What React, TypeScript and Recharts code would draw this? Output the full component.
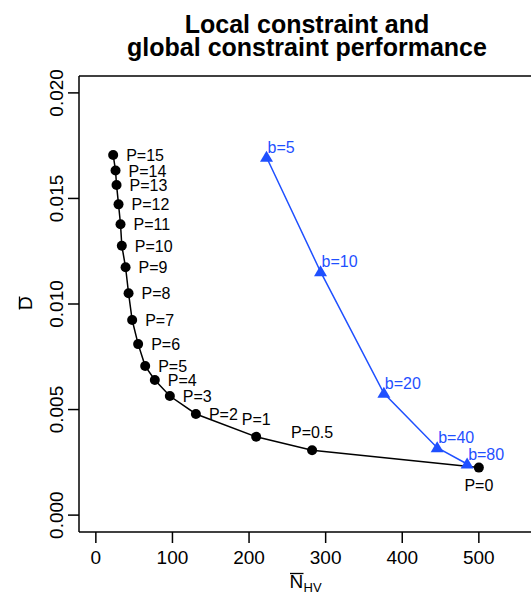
import { ScatterChart, Scatter, XAxis, YAxis, ReferenceLine } from "recharts";

const FONT = "'Liberation Sans', Arial, Helvetica, sans-serif";
const BLUE = "#1f50ff";

// local constraint (P) series
const pLabels = ["P=15", "P=14", "P=13", "P=12", "P=11", "P=10", "P=9", "P=8", "P=7", "P=6", "P=5", "P=4", "P=3", "P=2", "P=1", "P=0.5", "P=0"];
const pX = [22.6, 25.7, 27.0, 29.6, 32.2, 33.9, 38.8, 42.7, 47.4, 55.2, 64.4, 77.0, 96.6, 130.6, 209.3, 282.3, 500];
const pY = [0.01706, 0.01632, 0.01564, 0.01472, 0.01378, 0.01276, 0.01174, 0.01051, 0.00924, 0.0081, 0.00706, 0.0064, 0.00564, 0.00479, 0.00371, 0.00307, 0.00225];

// global constraint (b) series
const bLabels = ["b=5", "b=10", "b=20", "b=40", "b=80"];
const bX = [222.8, 293.3, 376, 445.6, 484.7];
const bY = [0.01695, 0.01153, 0.00577, 0.00319, 0.00242];

const xTicks = [0, 100, 200, 300, 400, 500];
const yTicks = [0, 0.005, 0.01, 0.015, 0.02];
const yMax = 0.0208;

const pData = pLabels.map((label, i) => ({ x: pX[i], y: pY[i], label }));
const bData = bLabels.map((label, i) => ({ x: bX[i], y: bY[i], label }));

function CircleShape(props: any) {
  const { cx, cy, payload } = props;
  const label: string = payload.label;
  let text;
  if (label === "P=0") {
    text = <text x={cx} y={cy + 23} textAnchor="middle">{label}</text>;
  } else if (label === "P=1" || label === "P=0.5") {
    text = <text x={cx} y={cy - 12} textAnchor="middle">{label}</text>;
  } else {
    text = <text x={cx + 13} y={cy + 6}>{label}</text>;
  }
  return (
    <g fontFamily={FONT} fontSize={16} fill="#000">
      <circle cx={cx} cy={cy} r={5} fill="#000" />
      {text}
    </g>
  );
}

function TriangleShape(props: any) {
  const { cx, cy, payload } = props;
  return (
    <g fontFamily={FONT} fontSize={16} fill={BLUE}>
      <polygon points={`${cx},${cy - 6.5} ${cx - 6.5},${cy + 4.5} ${cx + 6.5},${cy + 4.5}`} fill={BLUE} />
      <text x={cx + 1} y={cy - 4.5}>{payload.label}</text>
    </g>
  );
}

function XTick(props: any) {
  const { x, y, payload } = props;
  return (
    <text x={x} y={y + 19} textAnchor="middle" fontFamily={FONT} fontSize={19} fill="#000">
      {payload.value}
    </text>
  );
}

function YTick(props: any) {
  const { x, y, payload } = props;
  const bx = x - 3;
  return (
    <text x={bx} y={y} textAnchor="middle" transform={`rotate(-90, ${bx}, ${y})`} fontFamily={FONT} fontSize={19} fill="#000">
      {payload.value.toFixed(3)}
    </text>
  );
}

function XTitle() {
  return (
    <g fontFamily={FONT} fill="#000">
      <line x1={290} x2={303.5} y1={573.5} y2={573.5} stroke="#000" strokeWidth={1.3} />
      <text x={289.5} y={588} fontSize={19}>N</text>
      <text x={303.5} y={592} fontSize={13}>HV</text>
    </g>
  );
}

// y axis title plus the main title (drawn in the same label group)
function YTitle() {
  return (
    <g fontFamily={FONT} fill="#000">
      <line x1={19.5} x2={19.5} y1={296.5} y2={309.5} stroke="#000" strokeWidth={1.3} />
      <text x={32} y={303} fontSize={19} textAnchor="middle" transform="rotate(-90, 32, 303)">D</text>
      <g fontWeight="bold" fontSize={25} textAnchor="middle">
        <text x={307} y={32.5}>Local constraint and</text>
        <text x={307} y={55.5}>global constraint performance</text>
      </g>
    </g>
  );
}

export default function App() {
  return (
    <div style={{ position: "absolute", left: 0, top: 0, width: 531, height: 594, overflow: "hidden", background: "#fff" }}>
      <ScatterChart width={540} height={594} margin={{ top: 76, right: 6, left: 0, bottom: 0 }}>
        <XAxis
          dataKey="x"
          type="number"
          domain={[-22, 572]}
          ticks={xTicks}
          allowDataOverflow
          height={62}
          tickSize={11}
          tickLine={{ stroke: "#000", strokeWidth: 1.5 }}
          axisLine={{ stroke: "#000", strokeWidth: 1.5 }}
          tick={<XTick />}
          label={<XTitle />}
        />
        <YAxis
          dataKey="y"
          type="number"
          domain={[-0.0008, yMax]}
          ticks={yTicks}
          allowDataOverflow
          width={79}
          tickSize={11}
          tickLine={{ stroke: "#000", strokeWidth: 1.5 }}
          axisLine={{ stroke: "#000", strokeWidth: 1.5 }}
          tick={<YTick />}
          label={<YTitle />}
        />
        <ReferenceLine y={yMax} stroke="#000" strokeWidth={1.5} />
        <Scatter
          data={pData}
          line={{ stroke: "#000", strokeWidth: 1.5 }}
          shape={<CircleShape />}
          isAnimationActive={false}
        />
        <Scatter
          data={bData}
          line={{ stroke: BLUE, strokeWidth: 1.5 }}
          shape={<TriangleShape />}
          isAnimationActive={false}
        />
      </ScatterChart>
    </div>
  );
}
